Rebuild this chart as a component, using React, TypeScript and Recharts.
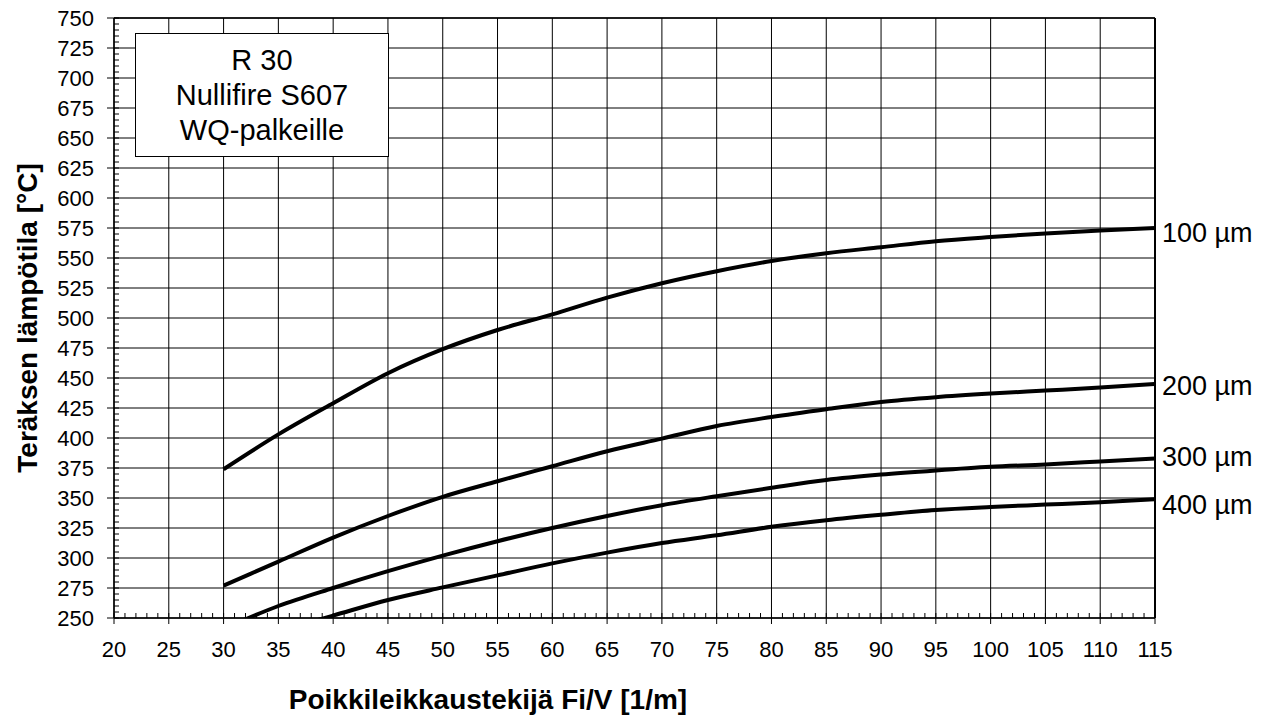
import { CartesianGrid, Line, LineChart, XAxis, YAxis } from 'recharts';

// Poikkileikkaustekijä Fi/V [1/m]
const fiV = [30, 35, 40, 45, 50, 55, 60, 65, 70, 75, 80, 85, 90, 95, 100, 105, 110, 115];

// Teräksen lämpötila [°C] kalvonpaksuuden mukaan
const t100 = [374, 403, 429, 454, 474, 490, 503, 517, 529, 539, 547.5, 554, 559, 564, 567.5, 570.5, 573, 575];
const t200 = [277, 297, 317, 335, 351, 364, 376.5, 389, 399.5, 410, 417.5, 424, 430, 434, 437, 439.5, 442, 445];
const t300 = [241, 260, 275, 289, 302, 314, 325, 335, 344, 351.5, 358.5, 365, 369.5, 373, 376, 378, 380.5, 383];
const t400 = [226, 239, 252, 265, 275.5, 285.5, 295.5, 304.5, 312.5, 319, 326, 331.5, 336, 340, 342.5, 344.5, 346.5, 349];

const seriesNames = ['100 µm', '200 µm', '300 µm', '400 µm'];

const xTicks = [20, 25, 30, 35, 40, 45, 50, 55, 60, 65, 70, 75, 80, 85, 90, 95, 100, 105, 110, 115];
const yTicks = [
  250, 275, 300, 325, 350, 375, 400, 425, 450, 475, 500, 525, 550, 575, 600, 625, 650, 675, 700, 725, 750
];
const xMinorTicks = Array.from({ length: 96 }, (_, i) => 20 + i);
const yMinorTicks = Array.from({ length: 101 }, (_, i) => 250 + i * 5);

const boxLines = ['R 30', 'Nullifire S607', 'WQ-palkeille'];

const data = fiV.map((x, i) => ({ x, t100: t100[i], t200: t200[i], t300: t300[i], t400: t400[i] }));

const labelDy: Record<string, number> = { t100: 5, t200: 2, t300: -1, t400: 6 };

const FONT = '"Liberation Sans", Arial, Helvetica, sans-serif';

function endLabel(name: string, key: string) {
  return (props: any) => {
    if (props.index !== data.length - 1) return null;
    return (
      <text
        key={`lbl-${key}`}
        x={props.x + 7}
        y={props.y + labelDy[key]}
        dominantBaseline="central"
        fontSize={27}
        fill="#000"
        fontFamily={FONT}
      >
        {name}
      </text>
    );
  };
}

export default function App() {
  const keys = ['t100', 't200', 't300', 't400'];
  return (
    <div style={{ position: 'absolute', left: 0, top: 0, width: 1276, height: 716, background: '#fff', fontFamily: FONT }}>
      <LineChart width={1276} height={716} data={data} margin={{ top: 18, right: 121, left: 0, bottom: 0 }}>
        <CartesianGrid xAxisId="main" yAxisId="main" stroke="#000" strokeWidth={1} />
        <XAxis
          xAxisId="minor"
          type="number"
          dataKey="x"
          domain={[20, 115]}
          allowDataOverflow
          ticks={xMinorTicks}
          interval={0}
          mirror
          tickSize={5}
          tickFormatter={() => ''}
          axisLine={false}
          tickLine={{ stroke: '#000' }}
        />
        <XAxis
          xAxisId="main"
          type="number"
          dataKey="x"
          domain={[20, 115]}
          allowDataOverflow
          ticks={xTicks}
          interval={0}
          height={98}
          tickSize={6}
          tickMargin={17}
          tick={{ fill: '#000', fontSize: 22 }}
          axisLine={{ stroke: '#000', strokeWidth: 1.5 }}
          tickLine={{ stroke: '#000' }}
          label={{
            content: () => (
              <text x={488} y={699} textAnchor="middle" dominantBaseline="central" fontSize={28} fontWeight="bold" fill="#000" fontFamily={FONT}>
                Poikkileikkaustekijä Fi/V [1/m]
              </text>
            )
          }}
        />
        <XAxis
          xAxisId="top"
          type="number"
          orientation="top"
          domain={[20, 115]}
          mirror
          tick={false}
          tickLine={false}
          axisLine={{ stroke: '#000', strokeWidth: 1.5 }}
        />
        <YAxis
          yAxisId="minor"
          type="number"
          domain={[250, 750]}
          allowDataOverflow
          ticks={yMinorTicks}
          interval={0}
          mirror
          tickSize={5}
          tickFormatter={() => ''}
          axisLine={false}
          tickLine={{ stroke: '#000' }}
        />
        <YAxis
          yAxisId="main"
          type="number"
          domain={[250, 750]}
          allowDataOverflow
          ticks={yTicks}
          interval={0}
          width={114}
          tickSize={7}
          tickMargin={13}
          tick={{ fill: '#000', fontSize: 22 }}
          axisLine={{ stroke: '#000', strokeWidth: 1.5 }}
          tickLine={{ stroke: '#000' }}
          label={{
            content: () => (
              <text
                x={27}
                y={318}
                transform="rotate(-90 27 318)"
                textAnchor="middle"
                dominantBaseline="central"
                fontSize={28}
                fontWeight="bold"
                fill="#000"
                fontFamily={FONT}
              >
                Teräksen lämpötila [°C]
              </text>
            )
          }}
        />
        <YAxis
          yAxisId="right"
          type="number"
          orientation="right"
          domain={[250, 750]}
          mirror
          tick={false}
          tickLine={false}
          axisLine={{ stroke: '#000', strokeWidth: 2 }}
        />
        {keys.map((k, i) => (
          <Line
            key={k}
            xAxisId="main"
            yAxisId="main"
            type="monotone"
            dataKey={k}
            stroke="#000"
            strokeWidth={4}
            dot={false}
            activeDot={false}
            isAnimationActive={false}
            label={endLabel(seriesNames[i], k)}
          />
        ))}
      </LineChart>
      <div
        style={{
          position: 'absolute',
          left: 135,
          top: 33,
          width: 254,
          height: 124,
          boxSizing: 'border-box',
          border: '1.5px solid #000',
          background: '#fff',
          display: 'flex',
          flexDirection: 'column',
          justifyContent: 'center',
          alignItems: 'center',
          fontSize: 29,
          lineHeight: '35px',
          color: '#000'
        }}
      >
        {boxLines.map((t) => (
          <div key={t}>{t}</div>
        ))}
      </div>
    </div>
  );
}
